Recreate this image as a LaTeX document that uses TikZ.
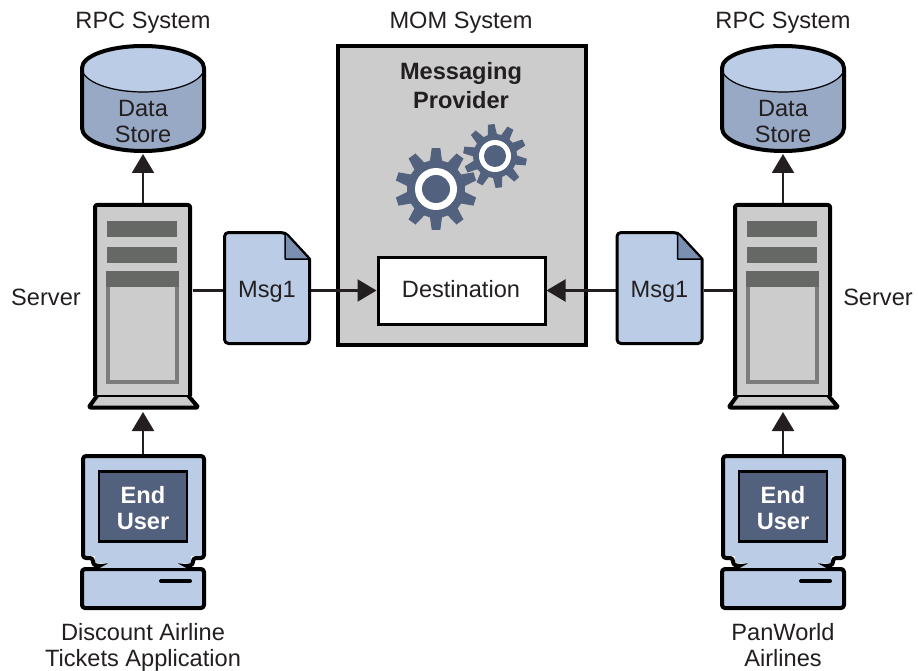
\documentclass[tikz,border=0pt]{standalone}
\usepackage{fontspec}
\setmainfont{Liberation Sans}
\usetikzlibrary{arrows.meta}
\definecolor{ink}{HTML}{231F20}
\definecolor{paleblue}{HTML}{BBCDE6}
\definecolor{midblue}{HTML}{97A9C4}
\definecolor{foldblue}{HTML}{7B8FB0}
\definecolor{slateblue}{HTML}{52617D}
\definecolor{boxgray}{HTML}{CCCCCC}
\definecolor{bargray}{HTML}{666866}
\definecolor{panelgray}{HTML}{7C7C7C}
\tikzset{
  label/.style={font=\fontsize{23.6}{26}\selectfont, text=ink, align=center, inner sep=0pt},
  boldlabel/.style={label, font=\fontsize{23.6}{29}\selectfont\bfseries},
  conn/.style={draw=ink, line width=2.2pt},
  connarrow/.style={conn, -{Triangle[length=19pt,width=22pt]}},
  serverbox/.style={minimum width=99pt, minimum height=193pt, inner sep=0pt, outer sep=0pt},
  bar/.style={fill=bargray},
  screenbox/.style={draw=black, fill=slateblue, line width=2.5pt, minimum width=88pt, minimum height=70pt, inner sep=0pt},
  screentext/.style={text=white, align=center, inner sep=0pt, font=\fontsize{23.6}{26}\selectfont\bfseries},
  msgbox/.style={minimum width=88pt, minimum height=114pt, inner sep=0pt, outer sep=0pt},
  outline/.style={draw=black, line width=4pt, line join=round},
}
% one gear wheel: x, y, outer, root, offset, ring, hub
\newcommand{\gearwheel}[7]{
  \begin{scope}[shift={(#1,#2)}]
    \fill[slateblue] ({#5-13}:#4) \foreach \k in {0,...,9} {
      -- ({#5+36*\k-12}:#4) -- ({#5+36*\k-6}:#3) -- ({#5+36*\k+6}:#3) -- ({#5+36*\k+12}:#4)} -- cycle;
    \fill[white] (0,0) circle (#6);
    \fill[slateblue] (0,0) circle (#7);
  \end{scope}
}
% message sheet, drawn round its node
\newcommand{\msgsheet}[1]{
  \filldraw[fill=paleblue, draw=black, line width=3pt, line join=round, rounded corners=4pt]
    ([shift={(1.5,-1.5)}]#1.south west) -- ([shift={(1.5,1.5)}]#1.north west) -- ([shift={(-26,1.5)}]#1.north east)
    [rounded corners=0pt] -- ([shift={(-1.5,28)}]#1.north east)
    [rounded corners=4pt] -- ([shift={(-1.5,-1.5)}]#1.south east) -- cycle;
  \filldraw[fill=foldblue, draw=black, line width=1.5pt, line join=round]
    ([shift={(-26,1.5)}]#1.north east) -- ([shift={(-1.5,28)}]#1.north east) -- ([shift={(-26,28)}]#1.north east) -- cycle;
}
\begin{document}
\begin{tikzpicture}[x=1pt, y=-1pt]
  \useasboundingbox (0,0) rectangle (918,671);
  \fill[white] (0,0) rectangle (918,671);

  % messaging provider
  \draw[draw=black, fill=boxgray, line width=4pt] (337.5,46) rectangle (586,345);
  \node[boldlabel] (provider) at (461,86) {Messaging\\Provider};
  \gearwheel{436}{189}{41}{29}{18}{21}{14}
  \gearwheel{495}{156}{32}{22}{11}{16}{11}
  \node[draw=black, fill=white, line width=3pt, minimum width=167pt, minimum height=67pt] (dest) at (461.5,290.5) {};
  \node[label] (desttext) at (461,289) {Destination};
  \node[label] (momlabel) at (461,23) {MOM System};

  % both airline sides
  \foreach \side/\dx in {l/0,r/640} {
  \begin{scope}[xshift=\dx pt]
    % data store
    \fill[midblue] (82,68) arc[start angle=180, end angle=360, x radius=61, y radius=22] -- (204,128) arc[start angle=0, end angle=180, x radius=61, y radius=23] -- cycle;
    \fill[paleblue] (143,68) ellipse [x radius=61, y radius=23];
    \draw[black, line width=1.2pt] (82,68) arc[start angle=180, end angle=0, x radius=61, y radius=24];
    \draw[outline] (82,68) arc[start angle=180, end angle=360, x radius=61, y radius=22] -- (204,128) arc[start angle=0, end angle=180, x radius=61, y radius=23] -- cycle;
    \node[label] (storetext\side) at (143,121.5) {Data\\Store};
    \coordinate (store\side) at (143,154);

    % server
    \filldraw[fill=boxgray, outline, rounded corners=2pt] (97,396) -- (88.5,407.5) -- (198.5,407.5) -- (188.5,396);
    \node[serverbox] (server\side) at (143,299.5) {};
    \filldraw[fill=boxgray, outline, rounded corners=2pt] (95,396) -- (95,205) -- (190,205) -- (190,396);
    \draw[black, line width=1.5pt] (95,396) -- (190,396);
    \fill[bar] (107,221) rectangle (177,237);
    \fill[bar] (107,247) rectangle (177,263);
    \fill[panelgray] (106,271) rectangle (179,384);
    \fill[bar] (106,271) rectangle (179,287);
    \fill[boxgray] (110,287) rectangle (175,380);

    % end user computer
    \draw[fill=paleblue, outline, rounded corners=3pt] (82,569) rectangle (204,608);
    \fill[black] (177,563) -- (193,565) -- (186,570) -- cycle;
    \fill[black] (109,563) -- (93,565) -- (100,570) -- cycle;
    \fill[paleblue] (83,456) rectangle (204,556) (95,556) rectangle (191,563) (109,563) -- (177,563) -- (186,568) -- (100,568) -- cycle;
    \draw[outline, rounded corners=3pt] (100,566) -- (93,565) -- (93,558) -- (83,558) -- (83,456) -- (204,456) -- (204,558) -- (193,558) -- (193,565) -- (186,566);
    \draw[black, line width=1.2pt] (102,568.5) -- (184,568.5);
    \node[screenbox] (screen\side) at (143,506.5) {};
    \node[screentext] (usertext\side) at (143,508) {End\\User};
    \draw[draw=black, line width=4pt, line cap=round] (161,581) -- (190,581);
    \coordinate (pc\side) at (143,454);

    \node[label] (rpclabel\side) at (143,23) {RPC System};
    \draw[connarrow] (server\side.north) -- (store\side);
    \coordinate (pcend\side) at (143,412);
    \draw[connarrow] (pc\side) -- (pcend\side);
  \end{scope}
  }

  % messages
  \node[msgbox] (msgl) at (267,288) {};
  \node[msgbox] (msgr) at (659.5,288) {};
  \draw[conn] (dest -| serverl.east) -- (dest -| msgl.west);
  \draw[conn] (dest -| serverr.west) -- (dest -| msgr.east);
  \draw[connarrow] (dest -| msgl.east) -- (dest.west);
  \draw[connarrow] (dest -| msgr.west) -- (dest.east);
  \msgsheet{msgl}
  \msgsheet{msgr}
  \node[label] (msgltext) at (267,291.5) {Msg1};
  \node[label] (msgrtext) at (659.5,291.5) {Msg1};

  % labels
  \node[label] (serverlabell) at (46,297) {Server};
  \node[label] (serverlabelr) at (878,297) {Server};
  \node[label] (appl) at (143,647) {Discount Airline\\Tickets Application};
  \node[label] (appr) at (783,645) {PanWorld\\Airlines};
\end{tikzpicture}
\end{document}
